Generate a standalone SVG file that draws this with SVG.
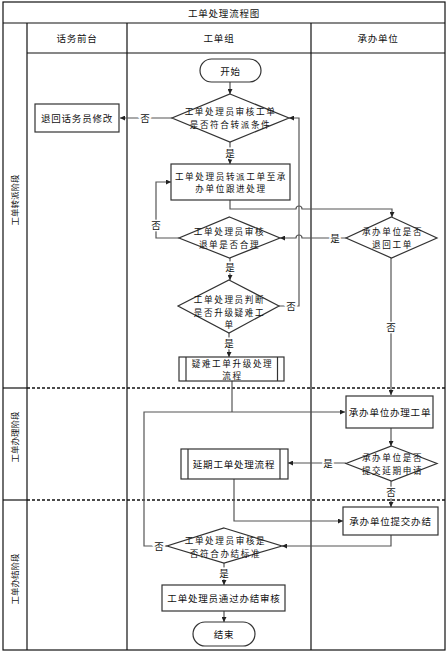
<svg xmlns="http://www.w3.org/2000/svg" width="447" height="652" viewBox="0 0 447 652">
<defs>
<marker id="ah" viewBox="0 0 8 8" refX="8" refY="4" markerWidth="5" markerHeight="5" orient="auto" markerUnits="userSpaceOnUse">
<path d="M0,0 L8,4 L0,8 z" fill="#222"/>
</marker>
<style>
.frame{fill:none;stroke:#111;stroke-width:1.2}
.dash{fill:none;stroke:#111;stroke-width:1.5;stroke-dasharray:3 2}
.node{fill:#fff;stroke:#333;stroke-width:1.2}
.t{font-family:"Noto Sans CJK SC","Noto Sans",sans-serif;font-size:9.5px;letter-spacing:0.8px;fill:#111;text-anchor:middle;dominant-baseline:central}
.m{font-size:8.6px;letter-spacing:1.6px}
.st{font-family:"Liberation Serif","Noto Sans CJK SC",serif;font-size:8.5px;fill:#111;text-anchor:middle;dominant-baseline:central}
.c{fill:none;stroke:#555;stroke-width:1.2}
.ca{fill:none;stroke:#555;stroke-width:1.2;marker-end:url(#ah)}
.lbl{font-family:"Noto Sans CJK SC","Noto Sans",sans-serif;font-size:9.5px;fill:#111;text-anchor:middle;dominant-baseline:central;stroke:#fff;stroke-width:3;paint-order:stroke}
</style>
</defs>

<g id="lanes">
<rect class="frame" x="3" y="2" width="442" height="648"/>
<line class="frame" x1="3" y1="23" x2="445" y2="23"/>
<line class="frame" x1="27" y1="53" x2="445" y2="53"/>
<line class="frame" x1="27" y1="23" x2="27" y2="650"/>
<line class="frame" x1="127" y1="23" x2="127" y2="650"/>
<line class="frame" x1="311" y1="23" x2="311" y2="650"/>
<line class="frame" x1="3" y1="388" x2="27" y2="388"/>
<line class="frame" x1="3" y1="500" x2="27" y2="500"/>
<line class="dash" x1="27" y1="388" x2="445" y2="388"/>
<line class="dash" x1="27" y1="500" x2="445" y2="500"/>
<text class="t" x="224" y="13">工单处理流程图</text>
<text class="t" x="77" y="38">话务前台</text>
<text class="t" x="219" y="38">工单组</text>
<text class="t" x="378" y="38">承办单位</text>
<text class="st" transform="translate(15,200) rotate(-90)">工单转派阶段</text>
<text class="st" transform="translate(15,437) rotate(-90)">工单办理阶段</text>
<text class="st" transform="translate(15,579) rotate(-90)">工单办结阶段</text>
</g>

<g id="connectors">
<path class="ca" d="M230,82 V94"/>
<path class="ca" d="M172,118 H120"/>
<path class="ca" d="M230,142 V164"/>
<path class="ca" d="M230,200 V209 H296 a3,3 0 0 1 6,0 H392 V217"/>
<path class="ca" d="M346,238 H302 a3,3 0 0 0 -6,0 H280"/>
<path class="ca" d="M179,238 H156 V182 H171"/>
<path class="ca" d="M230,258 V280"/>
<path class="ca" d="M279,306 H299 V118 H289"/>
<path class="ca" d="M229,333 V357"/>
<path class="ca" d="M391,258 V395"/>
<path class="c" d="M232,381 V412"/>
<path class="ca" d="M167,546 H144 V412 H345"/>
<path class="ca" d="M391,428 V446"/>
<path class="ca" d="M346,463 H288"/>
<path class="ca" d="M391,481 V507"/>
<path class="ca" d="M234,479 V521 H343"/>
<path class="ca" d="M391,535 V546 H282"/>
<path class="ca" d="M224,563 V585"/>
<path class="ca" d="M224,611 V622"/>
<text class="lbl" x="145" y="118">否</text>
<text class="lbl" x="230" y="153">是</text>
<text class="lbl" x="335" y="238">是</text>
<text class="lbl" x="156" y="225">否</text>
<text class="lbl" x="230" y="267">是</text>
<text class="lbl" x="291" y="306">否</text>
<text class="lbl" x="229" y="343">是</text>
<text class="lbl" x="391" y="327">否</text>
<text class="lbl" x="328" y="463">是</text>
<text class="lbl" x="391" y="492">否</text>
<text class="lbl" x="159" y="546">否</text>
<text class="lbl" x="224" y="573">是</text>
</g>

<g id="start">
<rect class="node" x="200" y="59" width="61" height="23" rx="11.5"/>
<text class="t" x="230.5" y="70.5">开始</text>
</g>

<g id="d1">
<polygon class="node" points="230,94 289,118 230,142 172,118"/>
<text class="t m" x="230.5" y="111">工单处理员审核工单</text>
<text class="t m" x="230.5" y="123.5">是否符合转派条件</text>
</g>

<g id="return-operator">
<rect class="node" x="35" y="104" width="84" height="28"/>
<text class="t" x="77" y="118">退回话务员修改</text>
</g>

<g id="dispatch">
<rect class="node" x="171" y="164" width="119" height="36"/>
<text class="t m" x="231" y="175.5">工单处理员转派工单至承</text>
<text class="t m" x="231" y="188">办单位跟进处理</text>
</g>

<g id="d3">
<polygon class="node" points="229.5,217 280,238 229.5,258 179,238"/>
<text class="t m" x="229.5" y="231">工单处理员审核</text>
<text class="t m" x="229.5" y="243.5">退单是否合理</text>
</g>

<g id="d4">
<polygon class="node" points="391.5,217 437,238 391.5,258 346,238"/>
<text class="t m" x="392.5" y="231">承办单位是否</text>
<text class="t m" x="392.5" y="243.5">退回工单</text>
</g>

<g id="d5">
<polygon class="node" points="229,280 279,306 229,333 178,306"/>
<text class="t m" x="229.5" y="299">工单处理员判断</text>
<text class="t m" x="229.5" y="311.5">是否升级疑难工</text>
<text class="t m" x="229.5" y="324">单</text>
</g>

<g id="escalate">
<rect class="node" x="179" y="357" width="105" height="24"/>
<line class="node" x1="186" y1="357" x2="186" y2="381"/>
<line class="node" x1="277.5" y1="357" x2="277.5" y2="381"/>
<text class="t m" x="232.5" y="362.5">疑难工单升级处理</text>
<text class="t m" x="232.5" y="375">流程</text>
</g>

<g id="handle">
<rect class="node" x="346" y="396" width="87" height="32"/>
<text class="t" x="390" y="412">承办单位办理工单</text>
</g>

<g id="d6">
<polygon class="node" points="391.5,446 437,463.5 391.5,481 346,463.5"/>
<text class="t m" x="392.5" y="457">承办单位是否</text>
<text class="t m" x="392.5" y="469.5">提交延期申请</text>
</g>

<g id="delay">
<rect class="node" x="181" y="449" width="107" height="30"/>
<line class="node" x1="188" y1="449" x2="188" y2="479"/>
<line class="node" x1="280" y1="449" x2="280" y2="479"/>
<text class="t" x="234" y="464">延期工单处理流程</text>
</g>

<g id="submit">
<rect class="node" x="343" y="507" width="95" height="28"/>
<text class="t" x="390.5" y="521">承办单位提交办结</text>
</g>

<g id="d7">
<polygon class="node" points="224,528 282,546 224,563 167,546"/>
<text class="t m" x="225.5" y="540">工单处理员审核是</text>
<text class="t m" x="225.5" y="552.5">否符合办结标准</text>
</g>

<g id="approve">
<rect class="node" x="162" y="585" width="123" height="26"/>
<text class="t" x="224" y="598">工单处理员通过办结审核</text>
</g>

<g id="end">
<rect class="node" x="193" y="622" width="62" height="24" rx="12"/>
<text class="t" x="224" y="634">结束</text>
</g>
</svg>
